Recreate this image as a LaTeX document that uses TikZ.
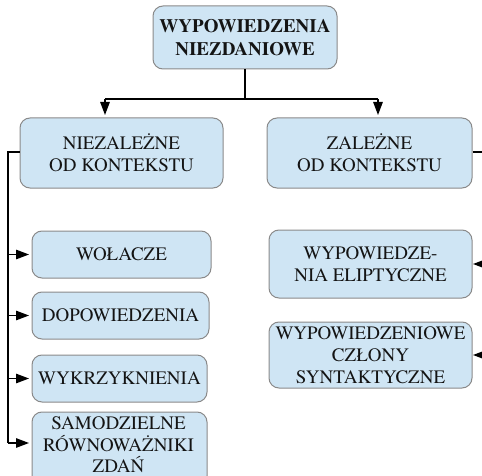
\documentclass[tikz,border=0pt]{standalone}
\usepackage{fontspec}
\setmainfont{texgyretermes}[Extension=.otf, UprightFont=*-regular, BoldFont=*-bold, ItalicFont=*-italic, BoldItalicFont=*-bolditalic]
\usetikzlibrary{arrows.meta}
\definecolor{boxfill}{HTML}{CFE5F4}
\definecolor{boxline}{HTML}{8A8A8A}
\definecolor{txt}{HTML}{141414}
\tikzset{
  box/.style={draw=boxline, fill=boxfill, line width=1pt, rounded corners=10pt,
    align=center, inner sep=0pt, text=txt, font=\rmfamily\fontsize{19}{22}\selectfont},
  boxtext/.style={align=center, inner sep=0pt, text=txt, font=\rmfamily\fontsize{19}{21.5}\selectfont},
  conn/.style={line width=1.3pt, draw=black},
  arr/.style={conn, -{Triangle[length=13pt,width=9.5pt]}, shorten >=2.5pt}
}
\begin{document}
\begin{tikzpicture}[x=1pt,y=-1pt]
\useasboundingbox (0,0) rectangle (482,476);
\clip (0,0) rectangle (482,476);
% boxes
\node[box, minimum width=184pt, minimum height=63pt, font=\rmfamily\fontsize{19}{23}\selectfont\bfseries] (top) at (245,37.5) {WYPOWIEDZENIA\\NIEZDANIOWE};
\node[box, minimum width=203pt, minimum height=70pt] (niez) at (121.5,153) {NIEZALEŻNE\\OD KONTEKSTU};
\node[box, minimum width=205pt, minimum height=70pt] (zal) at (369.5,153) {ZALEŻNE\\OD KONTEKSTU};
\node[box, minimum width=179pt, minimum height=47pt] (wol) at (121.5,254.5) {WOŁACZE};
\node[box, minimum width=177pt, minimum height=47pt] (dop) at (120.5,315.5) {DOPOWIEDZENIA};
\node[box, minimum width=175pt, minimum height=47pt] (wyk) at (119.5,378.5) {WYKRZYKNIENIA};
\node[box, minimum width=175pt, minimum height=74pt] (sam) at (119.5,449) {};
\node[boxtext] (samt) at (118.5,445) {SAMODZIELNE\\RÓWNOWAŻNIKI\\ZDAŃ};
\node[box, minimum width=203pt, minimum height=68pt] (elip) at (370.5,264) {WYPOWIEDZE-\\NIA ELIPTYCZNE};
\node[box, minimum width=203pt, minimum height=66pt] (czl) at (370.5,355) {WYPOWIEDZENIOWE\\CZŁONY\\SYNTAKTYCZNE};
% coordinates
\coordinate (hub) at (245,99);
\coordinate (hl) at (105,99);
\coordinate (hr) at (378,99);
\coordinate (lv) at (8,152);
\coordinate (rv) at (490,152);
\coordinate (samin) at (8,443);
% top connectors
\draw[conn] (top.south) -- (hub);
\draw[conn] (hl) -- (hr);
\draw[arr] (hl) -- (hl |- niez.north);
\draw[arr] (hr) -- (hr |- zal.north);
% left branch
\draw[conn] (niez.west |- lv) -- (lv) -- (samin);
\draw[arr] (lv |- wol.west) -- (wol.west);
\draw[arr] (lv |- dop.west) -- (dop.west);
\draw[arr] (lv |- wyk.west) -- (wyk.west);
\draw[arr] (samin) -- (samin -| sam.west);
% right branch
\draw[conn] (zal.east |- rv) -- (rv) -- (rv |- czl.east);
\draw[arr, shorten >=0.5pt] (rv |- elip.east) -- (elip.east);
\draw[arr, shorten >=0.5pt] (rv |- czl.east) -- (czl.east);
\end{tikzpicture}
\end{document}
